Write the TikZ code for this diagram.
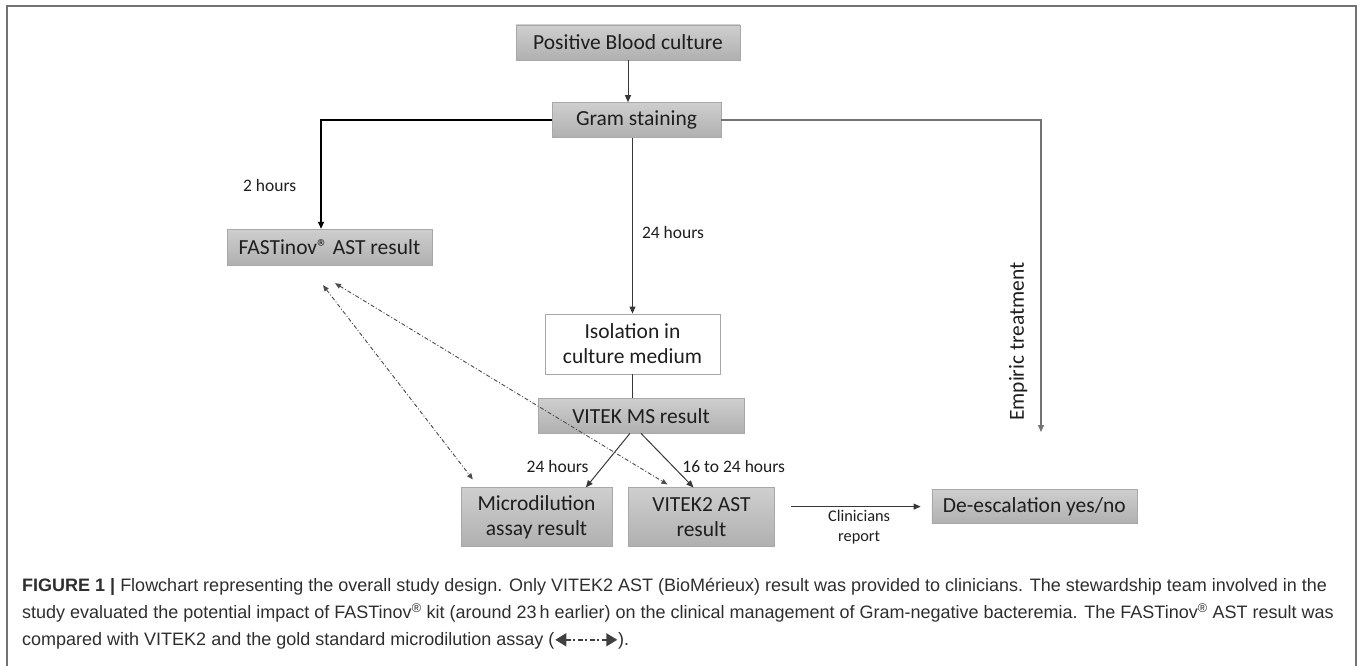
\documentclass[tikz,border=0pt]{standalone}
\usepackage{fontspec}
\setmainfont{Carlito}
\newfontfamily\capfont{Liberation Sans}
\usepackage{tikz}
\usetikzlibrary{arrows.meta,positioning,calc}
\definecolor{boxline}{HTML}{A8A8A8}
\definecolor{ink}{HTML}{1E1E1E}

\begin{document}
\begin{tikzpicture}[
  x=1pt, y=-1pt,
  box/.style={draw=boxline, fill=white, align=center, text=ink, font=\fontsize{21.5}{25.5}\selectfont, inner sep=2pt, minimum height=35pt},
  gbox/.style={box, top color=black!19, bottom color=black!31},
  lab/.style={text=ink, font=\fontsize{17.5}{20}\selectfont, inner sep=1pt},
  arr/.style={-{Triangle[length=7pt, width=6pt]}, draw=black!78, line width=1pt},
  dd/.style={{Triangle[length=6pt, width=5pt]}-{Triangle[length=6pt, width=5pt]}, draw=black!70, line width=0.9pt, dash pattern=on 4pt off 2pt on 1pt off 2pt},
  capdd/.style={{Triangle[length=11pt, width=13pt]}-{Triangle[length=11pt, width=13pt]}, draw=black!75, line width=1.6pt, dash pattern=on 5pt off 2.5pt on 2pt off 2.5pt},
  captext/.style={text=black!82, font=\capfont\fontsize{18}{27}\selectfont, inner sep=0pt, anchor=base west}]
\useasboundingbox (0,0) rectangle (1357,666);
\draw[black!55, line width=2pt] (7,680) -- (7,6) -- (1355.5,6) -- (1355.5,680);

\node[gbox, minimum width=224pt] (pbc) at (628,42.5) {Positive Blood culture};
\node[gbox, minimum width=169pt, below=42pt of pbc, xshift=8.5pt] (gram) {Gram staining};
\node[gbox, minimum width=205pt, minimum height=36pt] (fast) at (329.5,247) {FASTinov® AST result};
\node[box, minimum width=175pt, minimum height=60pt, below=176pt of gram, xshift=-4pt] (iso) {Isolation in\\culture medium};
\node[gbox, minimum width=206pt, below=24pt of iso, xshift=8.5pt] (vms) {VITEK MS result};
\node[gbox, minimum width=151pt, minimum height=59pt, below=54pt of vms, xshift=-104.5pt] (micro) {Microdilution\\assay result};
\node[gbox, minimum width=146pt, minimum height=59pt, right=16pt of micro] (vitek) {VITEK2 AST\\result};
\node[gbox, minimum width=205pt, minimum height=34pt, right=157pt of vitek, yshift=10.5pt] (desc) {De-escalation yes/no};
\coordinate (emp) at (1041,432);

\draw[arr] (pbc.south) -- (pbc.south |- gram.north);
\draw[arr, draw=black, line width=1.7pt] (gram.west) -| node[lab, pos=0.8, left=23pt] {2 hours} (fast.115);
\draw[arr] (iso.north |- gram.south) -- node[lab, pos=0.54, right=8pt] {24 hours} (iso.north);
\draw[draw=black!78, line width=1pt] (iso.south) -- (iso.south |- vms.north);
\draw[arr] (vms.238) -- node[lab, pos=0.61, left=13pt] {24 hours} (micro.31);
\draw[arr] (vms.south) -- node[lab, pos=0.61, right=8pt] {16 to 24 hours} (vitek.105);
\draw[arr, draw=black!55, line width=1.3pt] (gram.east) -| node[lab, font=\fontsize{21.5}{25}\selectfont, pos=0.855, xshift=-12pt, rotate=90, anchor=south] {Empiric treatment} (emp);
\draw[arr, shorten <=16pt, shorten >=11pt] (vitek.east |- desc.west) -- node[lab, below=2pt, xshift=6pt, align=center, font=\fontsize{16.3}{20}\selectfont] {Clinicians\\report} (desc.west);

% comparison with FASTinov
\draw[dd] ($(fast.south)+(-6.5,20)$) -- ($(micro.north west)+(12,-8)$);
\draw[dd] ($(fast.south)+(5.5,18)$) -- ($(vitek.north)+(-34,-3)$);

\node[captext] (cap1) at (22,591) {\textbf{FIGURE 1 |} Flowchart representing the overall study design. Only VITEK2 AST (BioMérieux) result was provided to clinicians. The stewardship team involved in the};
\node[captext] (cap2) at ([yshift=-27.5pt]cap1.base west) {study evaluated the potential impact of FASTinov\textsuperscript{®} kit (around 23\,h earlier) on the clinical management of Gram-negative bacteremia. The FASTinov\textsuperscript{®} AST result was};
\node[captext] (cap3) at ([yshift=-27pt]cap2.base west) {compared with VITEK2 and the gold standard microdilution assay (\tikz[baseline=-0.6ex]\draw[capdd] (0,0) -- (62pt,0);).};
\end{tikzpicture}
\end{document}
